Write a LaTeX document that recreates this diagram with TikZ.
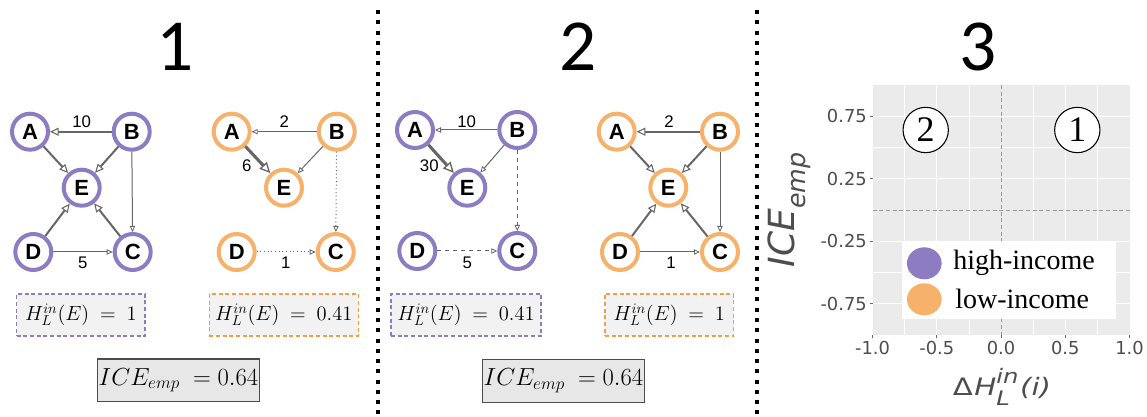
\RequirePackage{fix-cm}
\documentclass[tikz,border=0pt]{standalone}
\usepackage{fontspec}
\setmainfont{Liberation Serif}
\setsansfont{Liberation Sans}
\newfontfamily\dejavu{DejaVu Sans}
\newfontfamily\carlito{Carlito}
\usetikzlibrary{arrows.meta,shapes.geometric}
\definecolor{purp}{HTML}{8E7CC3}
\definecolor{orng}{HTML}{F6B26B}
\definecolor{orngdk}{HTML}{F0A04B}
\definecolor{edgegray}{HTML}{666666}
\definecolor{boxfill}{HTML}{F2F2F2}
\definecolor{panelbg}{HTML}{EBEBEB}
\definecolor{axgray}{HTML}{4D4D4D}
\tikzset{
  gnode/.style={circle, line width=3pt, minimum size=27pt, inner sep=0pt, fill=white,
    font=\sffamily\bfseries\fontsize{16.5}{18}\selectfont},
  pn/.style={gnode, draw=purp},
  on/.style={gnode, draw=orng},
  wlab/.style={font=\sffamily\fontsize{12.6}{14}\selectfont, inner sep=0pt},
  ed/.style={draw=edgegray},
  tipS/.style={-{Triangle[open, length=4.5pt, width=4pt, line width=0.6pt]}},
  tipM/.style={-{Triangle[open, length=6.5pt, width=6pt, line width=0.8pt]}},
  tipL/.style={-{Triangle[open, length=8pt, width=7.5pt, line width=1pt]}},
  thinE/.style={ed, line width=0.75pt, tipS},
  midE/.style={ed, line width=1.5pt, tipM},
  bigE/.style={ed, line width=2.3pt, tipL},
  hbox/.style={rectangle, fill=boxfill, line width=0.9pt, dash pattern=on 3pt off 2pt,
    minimum height=31.5pt, inner sep=0pt, font=\fontsize{15.4}{18}\selectfont},
  icebox/.style={rectangle, fill=boxfill!90!gray, draw=black!70, line width=1.1pt,
    minimum width=121.2pt, minimum height=32pt, inner sep=0pt, font=\fontsize{18.5}{22}\selectfont},
  header/.style={font=\carlito\fontsize{55}{60}\selectfont, inner sep=0pt},
  sep/.style={line width=3pt, dash pattern=on 3pt off 4.7pt},
  ticklab/.style={font=\dejavu\fontsize{13.4}{15}\selectfont, text=axgray, inner sep=0pt},
  circnum/.style={circle, draw=black, line width=0.8pt, minimum size=34pt, inner sep=0pt, fill=white,
    font=\fontsize{27}{30}\selectfont},
  legtext/.style={font=\fontsize{21}{24}\selectfont, anchor=west, inner sep=0pt},
}
\begin{document}
\begin{tikzpicture}[x=0.75pt, y=-0.75pt]
\useasboundingbox (0,0) rectangle (1147,417);

% headers
\node[header] (h1) at (175,47) {1};
\node[header] (h2) at (578,47) {2};
\node[header] (h3) at (978,47) {3};

% separators
\coordinate (s1t) at (377.7,10); \coordinate (s1b) at (377.7,417);
\coordinate (s2t) at (756.7,10); \coordinate (s2b) at (756.7,417);
\draw[sep] (s1t) -- (s1b);
\draw[sep] (s2t) -- (s2b);

% ---------- Panel 1, purple ----------
\node[pn] (p1A) at (30,131.7) {A};
\node[pn] (p1B) at (131.7,131.7) {B};
\node[pn] (p1E) at (81.7,187.7) {E};
\node[pn] (p1D) at (33.3,252) {D};
\node[pn] (p1C) at (132.7,252) {C};
\draw[midE] (p1B) -- (p1A);
\draw[midE] (p1A) -- (p1E);
\draw[midE] (p1B) -- (p1E);
\draw[midE] (p1D) -- (p1E);
\draw[midE] (p1C) -- (p1E);
\draw[thinE] (p1B) -- (p1C);
\draw[thinE] (p1D) -- (p1C);
\node[wlab] (p1l10) at (81.7,121.7) {10};
\node[wlab] (p1l5) at (82.7,262.7) {5};

% ---------- Panel 1, orange ----------
\node[on] (o1A) at (231.7,131.7) {A};
\node[on] (o1B) at (336.7,131.7) {B};
\node[on] (o1E) at (284,187.7) {E};
\node[on] (o1D) at (236.7,252) {D};
\node[on] (o1C) at (335.7,252) {C};
\draw[thinE] (o1B) -- (o1A);
\draw[bigE] (o1A) -- (o1E);
\draw[thinE] (o1B) -- (o1E);
\draw[thinE, dotted] (o1B) -- (o1C);
\draw[thinE, dotted] (o1D) -- (o1C);
\node[wlab] (o1l2) at (284.3,121.7) {2};
\node[wlab] (o1l6) at (246.7,166) {6};
\node[wlab] (o1l1) at (285.7,262.7) {1};

% ---------- Panel 2, purple ----------
\node[pn] (p2A) at (415,130) {A};
\node[pn] (p2B) at (517.3,130) {B};
\node[pn] (p2E) at (467.3,187.7) {E};
\node[pn] (p2D) at (417.3,251) {D};
\node[pn] (p2C) at (517.3,251) {C};
\draw[thinE] (p2B) -- (p2A);
\draw[bigE] (p2A) -- (p2E);
\draw[thinE] (p2B) -- (p2E);
\draw[thinE, dashed] (p2B) -- (p2C);
\draw[thinE, dashed] (p2D) -- (p2C);
\node[wlab] (p2l10) at (466.7,121.7) {10};
\node[wlab] (p2l30) at (429.3,166) {30};
\node[wlab] (p2l5) at (467.3,262.7) {5};

% ---------- Panel 2, orange ----------
\node[on] (o2A) at (616.7,131.7) {A};
\node[on] (o2B) at (720,131.7) {B};
\node[on] (o2E) at (668.3,187.7) {E};
\node[on] (o2D) at (620,252) {D};
\node[on] (o2C) at (720,252) {C};
\draw[midE] (o2B) -- (o2A);
\draw[midE] (o2A) -- (o2E);
\draw[midE] (o2B) -- (o2E);
\draw[midE] (o2D) -- (o2E);
\draw[midE] (o2C) -- (o2E);
\draw[thinE] (o2B) -- (o2C);
\draw[thinE] (o2D) -- (o2C);
\node[wlab] (o2l2) at (669,121.7) {2};
\node[wlab] (o2l1) at (671,262.7) {1};

% ---------- boxes ----------
\node[hbox, draw=purp, minimum width=96.2pt] (b1p) at (80.85,315) {$H_L^{in}(E)\ =\ 1$};
\node[hbox, draw=orngdk, minimum width=111.75pt] (b1o) at (283.8,315) {$H_L^{in}(E)\ =\ 0.41$};
\node[hbox, draw=purp, minimum width=112.5pt] (b2p) at (466,315) {$H_L^{in}(E)\ =\ 0.41$};
\node[hbox, draw=orngdk, minimum width=96.2pt] (b2o) at (669.2,315) {$H_L^{in}(E)\ =\ 1$};
\node[icebox] (ice1) at (178.5,380.4) {$ICE_{emp}\ =0.64$};
\node[icebox] (ice2) at (563.5,381) {$ICE_{emp}\ =0.64$};

% ---------- plot ----------
\fill[panelbg] (872.5,85) rectangle (1129.5,335);
\foreach \v in {-0.75,-0.25,0.25,0.75} {
  \draw[white, line width=0.5pt] ({1001+128.5*\v},85) -- ({1001+128.5*\v},335);
  \draw[white, line width=0.5pt] (872.5,{210-125*\v}) -- (1129.5,{210-125*\v});
}
\foreach \v in {-0.5,0.5} {
  \draw[white, line width=1pt] ({1001+128.5*\v},85) -- ({1001+128.5*\v},335);
  \draw[white, line width=1pt] (872.5,{210-125*\v}) -- (1129.5,{210-125*\v});
}
\coordinate (vx0t) at (1001,85); \coordinate (vx0b) at (1001,335);
\coordinate (hy0l) at (872.5,210); \coordinate (hy0r) at (1129.5,210);
\draw[black!40, line width=0.6pt, dash pattern=on 3pt off 2pt] (vx0t) -- (vx0b);
\draw[black!40, line width=0.6pt, dash pattern=on 3pt off 2pt] (hy0l) -- (hy0r);
% ticks
\foreach \v in {-1,-0.5,0,0.5,1} {
  \draw[black!60, line width=0.5pt] ({1001+128.5*\v},335) -- ({1001+128.5*\v},338);
}
\foreach \v in {0.75,0.25,-0.25,-0.75} {
  \draw[black!60, line width=0.5pt] (872.5,{210-125*\v}) -- (869.5,{210-125*\v});
}
% tick labels
\node[ticklab] (xl1) at (872.5,348) {-1.0};
\node[ticklab] (xl2) at (936.75,348) {-0.5};
\node[ticklab] (xl3) at (1001,348) {0.0};
\node[ticklab] (xl4) at (1065.25,348) {0.5};
\node[ticklab] (xl5) at (1129.5,348) {1.0};
\node[ticklab, anchor=east] (yl1) at (867,116.25) {0.75};
\node[ticklab, anchor=east] (yl2) at (867,178.75) {0.25};
\node[ticklab, anchor=east] (yl3) at (867,241.25) {-0.25};
\node[ticklab, anchor=east] (yl4) at (867,303.75) {-0.75};
% axis titles
\node[text=axgray, rotate=90, inner sep=0pt, font=\dejavu\itshape\fontsize{27}{30}\selectfont] (ytitle) at (789,210)
  {ICE\raisebox{-0.3em}{\fontsize{19}{22}\selectfont emp}};
\node[text=axgray, inner sep=0pt, font=\dejavu\fontsize{18}{24}\selectfont] (xtitle) at (1002,387)
  {\scalebox{1.22}[1]{{\upshape Δ}\kern0.05em{\itshape H}\rlap{\raisebox{-0.4em}{\itshape\fontsize{15}{16}\selectfont L}}\raisebox{0.5em}{\itshape\fontsize{15}{16}\selectfont in}\kern0.05em{\itshape (i)}}};
% circled numbers
\node[circnum] (c2) at (925.7,130) {2};
\node[circnum] (c1) at (1077.3,130) {1};
% legend
\fill[white] (901.7,241) rectangle (1116,319.3);
\node[ellipse, fill=purp, minimum width=26pt, minimum height=24pt, inner sep=0pt] at (924.3,263.3) (lp) {};
\node[ellipse, fill=orng, minimum width=26pt, minimum height=24pt, inner sep=0pt] at (924.3,299.3) (lo) {};
\node[legtext] (ltp) at (953,263) {high-income};
\node[legtext] (lto) at (955,299) {low-income};
\end{tikzpicture}
\end{document}
